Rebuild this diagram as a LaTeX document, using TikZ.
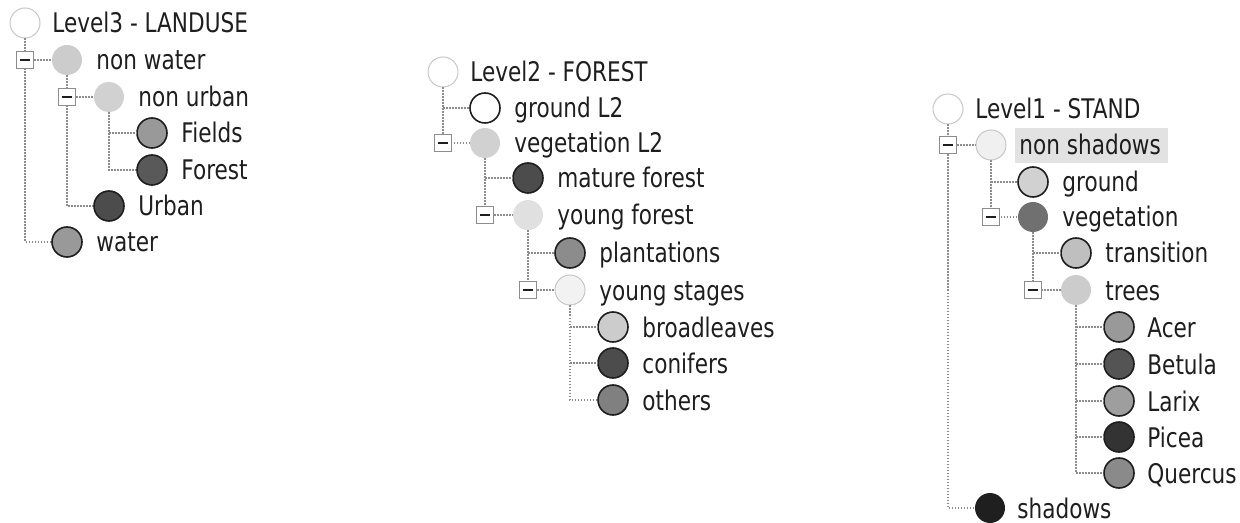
\documentclass[tikz,border=0pt]{standalone}
\usepackage{fontspec}
\setmainfont{DejaVu Sans}[FakeStretch=0.8]
\definecolor{ink}{HTML}{1E1E1E}
\definecolor{linegray}{HTML}{8C8C8C}
\definecolor{hlgray}{HTML}{E2E2E2}
\tikzset{
  cls/.style={circle, minimum size=15pt, inner sep=0pt, fill=#1},
  ring/.style={cls=#1, draw=ink, line width=0.8pt},
  soft/.style={cls=#1, draw=black!22, line width=0.5pt},
  flat/.style={cls=#1},
  lbl/.style={anchor=base west, inner sep=0pt, text=ink,
    font=\fontsize{13.5pt}{16pt}\selectfont},
  conn/.style={draw=linegray, line width=0.75pt, dash pattern=on 0.75pt off 0.75pt},
  toggle/.style={draw=black!45, fill=white, line width=0.5pt, minimum size=8.5pt,
    inner sep=0pt, path picture={\draw[ink, line width=1pt]
      ([xshift=-2.3pt]path picture bounding box.center) --
      ([xshift=2.3pt]path picture bounding box.center);}},
}
\begin{document}
\begin{tikzpicture}[x=0.5pt, y=-0.5pt]
\useasboundingbox (0,0) rectangle (1240,523);

% ---------------- Level3 - LANDUSE ----------------
\node[soft=white] (aroot) at (25,23) {};
\node[flat=black!20] (anw) at (67,60) {};
\node[flat=black!18] (anu) at (109,97) {};
\node[ring=black!40] (afields) at (152,133) {};
\node[ring=black!65] (aforest) at (152,170) {};
\node[ring=black!70] (aurban) at (109,206) {};
\node[ring=black!40] (awater) at (67,242) {};

\draw[conn] (aroot.south) |- (awater.west);
\draw[conn] (aroot.south |- anw) -- (anw.west);
\draw[conn] (anw.south) |- (aurban.west);
\draw[conn] (anw.south |- anu) -- (anu.west);
\draw[conn] (anu.south) |- (aforest.west);
\draw[conn] (anu.south |- afields) -- (afields.west);

\node[toggle] (anwbox) at (aroot.south |- anw) {};
\node[toggle] (anubox) at (anw.south |- anu) {};

\node[lbl] (taroot) at (52,33) {Level3 - LANDUSE};
\node[lbl] (tanw) at (96,70) {non water};
\node[lbl] (tanu) at (138,107) {non urban};
\node[lbl] (tafields) at (181,143) {Fields};
\node[lbl] (taforest) at (181,180) {Forest};
\node[lbl] (taurban) at (138,216) {Urban};
\node[lbl] (tawater) at (96,252) {water};

% ---------------- Level2 - FOREST ----------------
\node[soft=white] (broot) at (443,72) {};
\node[ring=white] (bground) at (485,108) {};
\node[flat=black!18] (bveg) at (485,143) {};
\node[ring=black!70] (bmature) at (528,178) {};
\node[flat=black!12] (byoung) at (528,215) {};
\node[ring=black!45] (bplant) at (570,253) {};
\node[soft=black!5] (bstages) at (570,290) {};
\node[ring=black!20] (bbroad) at (613,327) {};
\node[ring=black!70] (bconif) at (613,363) {};
\node[ring=black!50] (bother) at (613,400) {};

\draw[conn] (broot.south) |- (bveg.west);
\draw[conn] (broot.south |- bground) -- (bground.west);
\draw[conn] (bveg.south) |- (byoung.west);
\draw[conn] (bveg.south |- bmature) -- (bmature.west);
\draw[conn] (byoung.south) |- (bstages.west);
\draw[conn] (byoung.south |- bplant) -- (bplant.west);
\draw[conn] (bstages.south) |- (bother.west);
\draw[conn] (bstages.south |- bbroad) -- (bbroad.west);
\draw[conn] (bstages.south |- bconif) -- (bconif.west);

\node[toggle] (bvegbox) at (broot.south |- bveg) {};
\node[toggle] (byoungbox) at (bveg.south |- byoung) {};
\node[toggle] (bstagesbox) at (byoung.south |- bstages) {};

\node[lbl] (tbroot) at (470,82) {Level2 - FOREST};
\node[lbl] (tbground) at (514,118) {ground L2};
\node[lbl] (tbveg) at (514,153) {vegetation L2};
\node[lbl] (tbmature) at (557,188) {mature forest};
\node[lbl] (tbyoung) at (557,225) {young forest};
\node[lbl] (tbplant) at (599,263) {plantations};
\node[lbl] (tbstages) at (599,300) {young stages};
\node[lbl] (tbbroad) at (642,337) {broadleaves};
\node[lbl] (tbconif) at (642,373) {conifers};
\node[lbl] (tbother) at (642,410) {others};

% ---------------- Level1 - STAND ----------------
\node[soft=white] (croot) at (948,109) {};
\node[soft=black!6] (cnonsh) at (991,145) {};
\node[ring=black!18] (cground) at (1033,182) {};
\node[flat=black!56] (cveg) at (1033,217) {};
\node[ring=black!25] (ctrans) at (1076,253) {};
\node[flat=black!20] (ctrees) at (1076,290) {};
\node[ring=black!40] (cacer) at (1119,327) {};
\node[ring=black!67] (cbetula) at (1119,364) {};
\node[ring=black!38] (clarix) at (1119,401) {};
\node[ring=black!80] (cpicea) at (1119,437) {};
\node[ring=black!46] (cquercus) at (1119,473) {};
\node[flat=black!88] (cshadow) at (990,508) {};

\draw[conn] (croot.south) |- (cshadow.west);
\draw[conn] (croot.south |- cnonsh) -- (cnonsh.west);
\draw[conn] (cnonsh.south) |- (cveg.west);
\draw[conn] (cnonsh.south |- cground) -- (cground.west);
\draw[conn] (cveg.south) |- (ctrees.west);
\draw[conn] (cveg.south |- ctrans) -- (ctrans.west);
\draw[conn] (ctrees.south) |- (cquercus.west);
\draw[conn] (ctrees.south |- cacer) -- (cacer.west);
\draw[conn] (ctrees.south |- cbetula) -- (cbetula.west);
\draw[conn] (ctrees.south |- clarix) -- (clarix.west);
\draw[conn] (ctrees.south |- cpicea) -- (cpicea.west);

\node[toggle] (cnonshbox) at (croot.south |- cnonsh) {};
\node[toggle] (cvegbox) at (cnonsh.south |- cveg) {};
\node[toggle] (ctreesbox) at (cveg.south |- ctrees) {};

% selected entry
\fill[hlgray] (1015,128) rectangle (1168,163);

\node[lbl] (tcroot) at (975,119) {Level1 - STAND};
\node[lbl] (tcnonsh) at (1019,155) {non shadows};
\node[lbl] (tcground) at (1062,192) {ground};
\node[lbl] (tcveg) at (1062,227) {vegetation};
\node[lbl] (tctrans) at (1105,263) {transition};
\node[lbl] (tctrees) at (1105,300) {trees};
\node[lbl] (tcacer) at (1147,337) {Acer};
\node[lbl] (tcbetula) at (1147,374) {Betula};
\node[lbl] (tclarix) at (1147,411) {Larix};
\node[lbl] (tcpicea) at (1147,447) {Picea};
\node[lbl] (tcquercus) at (1147,483) {Quercus};
\node[lbl] (tcshadow) at (1017,518) {shadows};
\end{tikzpicture}
\end{document}
